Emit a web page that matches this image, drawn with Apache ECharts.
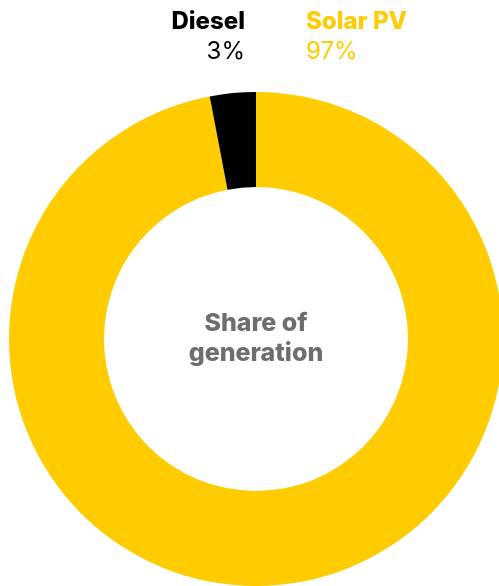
<!DOCTYPE html>
<html><head><meta charset="utf-8">
<script src="https://cdn.jsdelivr.net/npm/echarts@6/dist/echarts.min.js"></script>
<style>html,body{margin:0;padding:0;background:#fff}#c{width:499px;height:586px}</style>
</head><body><div id="c"></div>
<script>
var categories = ['Solar PV', 'Diesel'];
var shares = [97, 3];
var colors = ['#FECC00', '#000000'];
var centerLabel = ['Share of', 'generation'];

var chart = echarts.init(document.getElementById('c'), null, {renderer: 'canvas'});
var font = 'Inter, "DejaVu Sans", sans-serif';
chart.setOption({
  animation: false,
  series: [{
    type: 'pie',
    center: [256, 339],
    radius: [152, 247],
    startAngle: 90,
    clockwise: true,
    label: {show: false},
    labelLine: {show: false},
    silent: true,
    data: categories.map(function (c, i) {
      return {name: c, value: shares[i], itemStyle: {color: colors[i]}};
    })
  }],
  graphic: [
    {type: 'text', x: 245, y: 34, style: {text: categories[1], fill: colors[1], font: '800 24px ' + font, textAlign: 'right', textVerticalAlign: 'bottom'}},
    {type: 'text', x: 245, y: 64, style: {text: shares[1] + '%', fill: colors[1], font: '24px ' + font, textAlign: 'right', textVerticalAlign: 'bottom'}},
    {type: 'text', x: 306, y: 34, style: {text: categories[0], fill: colors[0], font: '800 24px ' + font, textAlign: 'left', textVerticalAlign: 'bottom'}},
    {type: 'text', x: 306, y: 64, style: {text: shares[0] + '%', fill: colors[0], font: '24px ' + font, textAlign: 'left', textVerticalAlign: 'bottom'}},
    {type: 'text', x: 256, y: 338, style: {text: centerLabel.join('\n'), fill: '#6D6E71', font: '800 25px ' + font, lineHeight: 30, textAlign: 'center', textVerticalAlign: 'middle'}}
  ]
});
</script></body></html>
